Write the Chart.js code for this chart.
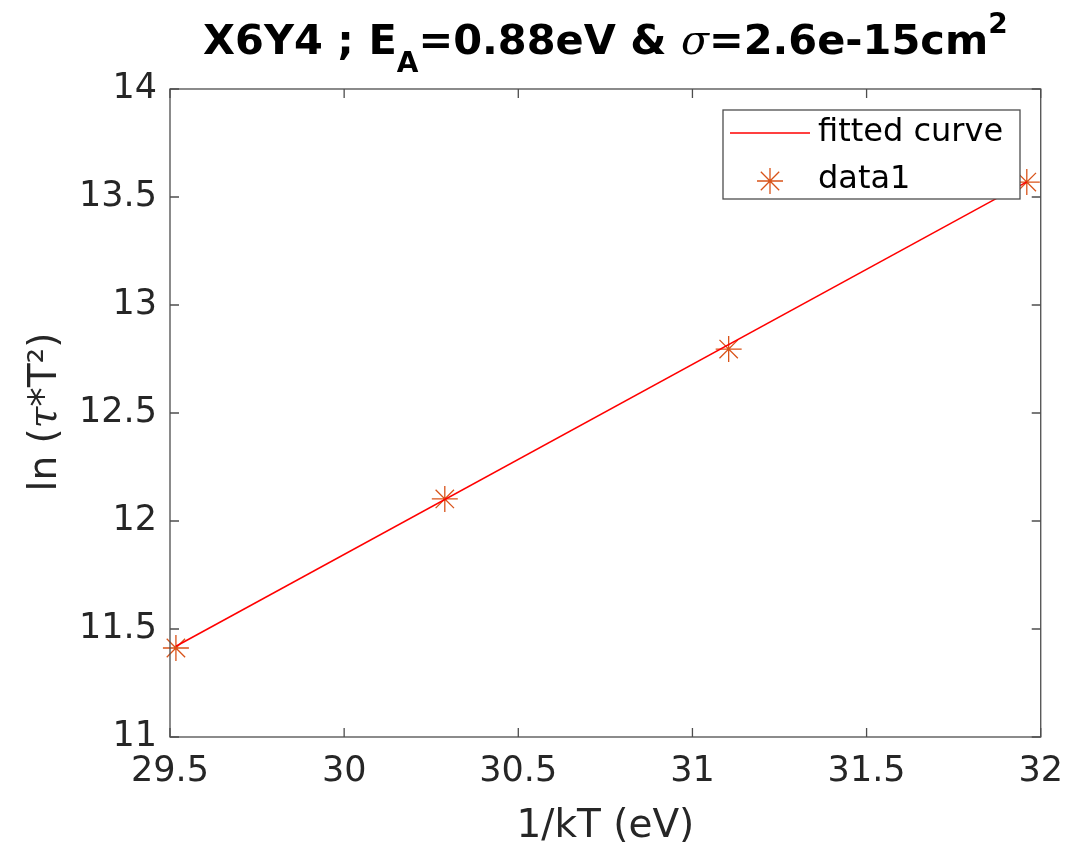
<!DOCTYPE html>
<html lang="en">
<head>
  <meta charset="UTF-8">
  <title>X6Y4 Arrhenius</title>
  <script src="https://cdn.jsdelivr.net/npm/chart.js@4.4.1/dist/chart.umd.min.js"></script>
  <style>
    body { margin: 0; background: #fff; }
  </style>
</head>
<body>
  <canvas id="arrhenius" width="1077" height="843"></canvas>
<script>
  // measured points (1/kT, ln(tau*T^2))
  const invKT = [29.517, 30.289, 31.104, 31.960];
  const lnTauT2 = [11.412, 12.102, 12.796, 13.569];
  // fitted line, slope = EA = 0.88
  const fitX = [29.517, 31.960];
  const fitY = [11.42, 13.57];
  const xTicks = [29.5, 30, 30.5, 31, 31.5, 32];
  const yTicks = [11, 11.5, 12, 12.5, 13, 13.5, 14];
  const legendLabels = ["fitted curve", "data1"];

  const TXT = "#262626";
  const AX = "#4d4d4d";
  const MARK = "#D95319";
  const FIT = "#ff0000";
  const FONT = "'DejaVu Sans', sans-serif";

  function drawStar(ctx, x, y, r) {
    const d = r * Math.SQRT1_2;
    ctx.beginPath();
    ctx.moveTo(x - r, y); ctx.lineTo(x + r, y);
    ctx.moveTo(x, y - r); ctx.lineTo(x, y + r);
    ctx.moveTo(x - d, y - d); ctx.lineTo(x + d, y + d);
    ctx.moveTo(x - d, y + d); ctx.lineTo(x + d, y - d);
    ctx.stroke();
  }

  // draw a row of text pieces, each {t, font, dy}
  function drawPieces(ctx, pieces, cx, baseY) {
    let w = 0;
    pieces.forEach(p => { ctx.font = p.font; w += ctx.measureText(p.t).width; });
    let x = cx - w / 2;
    ctx.textAlign = "left";
    ctx.textBaseline = "alphabetic";
    pieces.forEach(p => {
      ctx.font = p.font;
      ctx.fillText(p.t, x, baseY + (p.dy || 0));
      x += ctx.measureText(p.t).width;
    });
  }

  // box, inward ticks, title, axis labels, legend
  const matlabLook = {
    id: "matlabLook",
    afterDatasetsDraw(chart) {
      const ctx = chart.ctx;
      const { left, right, top, bottom } = chart.chartArea;
      const xs = chart.scales.x, ys = chart.scales.y;
      ctx.save();
      ctx.strokeStyle = AX;
      ctx.lineWidth = 1.3;
      ctx.strokeRect(left, top, right - left, bottom - top);
      const tl = 9;
      ctx.beginPath();
      xTicks.forEach(v => {
        const px = xs.getPixelForValue(v);
        ctx.moveTo(px, bottom); ctx.lineTo(px, bottom - tl);
        ctx.moveTo(px, top); ctx.lineTo(px, top + tl);
      });
      yTicks.forEach(v => {
        const py = ys.getPixelForValue(v);
        ctx.moveTo(left, py); ctx.lineTo(left + tl, py);
        ctx.moveTo(right, py); ctx.lineTo(right - tl, py);
      });
      ctx.stroke();

      // title
      ctx.fillStyle = "#000";
      const b = "bold 41.5px " + FONT;
      const bs = "bold 28px " + FONT;
      drawPieces(ctx, [
        { t: "X6Y4 ; E", font: b },
        { t: "A", font: bs, dy: 18 },
        { t: "=0.88eV & ", font: b },
        { t: "σ", font: "italic 41px 'DejaVu Serif', serif" },
        { t: "=2.6e-15cm", font: b },
        { t: "2", font: bs, dy: -21 }
      ], (left + right) / 2, 54);

      // x label
      ctx.fillStyle = TXT;
      drawPieces(ctx, [{ t: "1/kT (eV)", font: "39px " + FONT }], (left + right) / 2, 837);

      // y label
      ctx.save();
      ctx.translate(56, 412);
      ctx.rotate(-Math.PI / 2);
      drawPieces(ctx, [
        { t: "ln (", font: "39px " + FONT },
        { t: "τ", font: "italic 39px 'DejaVu Serif', serif" },
        { t: "*T²)", font: "39px " + FONT }
      ], 0, 0);
      ctx.restore();

      // legend
      const lx = 723, ly = 110, lw = 297, lh = 89;
      ctx.fillStyle = "#fff";
      ctx.fillRect(lx, ly, lw, lh);
      ctx.lineWidth = 1.3;
      ctx.strokeStyle = AX;
      ctx.strokeRect(lx, ly, lw, lh);
      ctx.strokeStyle = FIT;
      ctx.lineWidth = 1.5;
      ctx.beginPath();
      ctx.moveTo(730, 133); ctx.lineTo(810, 133);
      ctx.stroke();
      ctx.strokeStyle = MARK;
      ctx.lineWidth = 1.3;
      drawStar(ctx, 770, 181, 13);
      ctx.fillStyle = "#000";
      ctx.font = "32px " + FONT;
      ctx.textAlign = "left";
      ctx.textBaseline = "middle";
      ctx.fillText(legendLabels[0], 818, 133);
      ctx.fillText(legendLabels[1], 818, 180);
      ctx.restore();
    }
  };

  const plainNum = v => String(Number(v));

  new Chart(document.getElementById("arrhenius"), {
    type: "scatter",
    data: {
      datasets: [{
        label: legendLabels[0],
        data: fitX.map((x, i) => ({ x: x, y: fitY[i] })),
        showLine: true,
        borderColor: FIT,
        borderWidth: 1.5,
        pointRadius: 0,
        clip: false
      }, {
        label: legendLabels[1],
        data: invKT.map((x, i) => ({ x: x, y: lnTauT2[i] })),
        showLine: false,
        pointStyle: "star",
        pointRadius: 13,
        pointBorderColor: MARK,
        pointBackgroundColor: MARK,
        pointBorderWidth: 1.3,
        clip: false
      }]
    },
    options: {
      responsive: false,
      animation: false,
      events: [],
      layout: { padding: { left: 0, right: 36, top: 89, bottom: 0 } },
      plugins: {
        legend: { display: false },
        title: { display: false },
        tooltip: { enabled: false }
      },
      scales: {
        x: {
          type: "linear",
          min: 29.5,
          max: 32,
          afterBuildTicks: s => { s.ticks = xTicks.map(v => ({ value: v })); },
          afterFit: s => { s.height = 106; },
          grid: { display: false, drawTicks: false },
          border: { display: false },
          ticks: { color: TXT, font: { family: FONT, size: 35 }, padding: 14, maxRotation: 0, callback: plainNum }
        },
        y: {
          type: "linear",
          min: 11,
          max: 14,
          afterBuildTicks: s => { s.ticks = yTicks.map(v => ({ value: v })); },
          afterFit: s => { s.width = 170; },
          grid: { display: false, drawTicks: false },
          border: { display: false },
          ticks: { color: TXT, font: { family: FONT, size: 35 }, padding: 13, callback: plainNum }
        }
      }
    },
    plugins: [matlabLook]
  });
</script>
</body>
</html>
